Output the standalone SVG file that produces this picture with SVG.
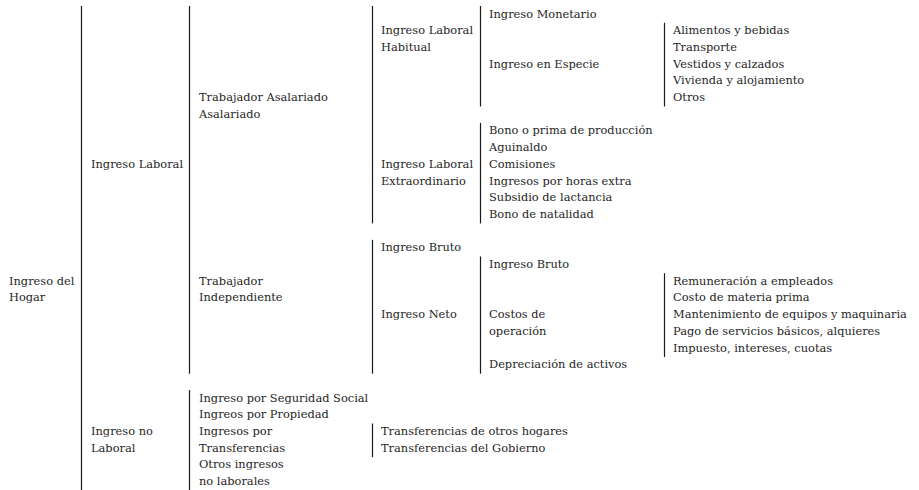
<svg xmlns="http://www.w3.org/2000/svg" width="919" height="490" viewBox="0 0 919 490">
<style>
text{font-family:"DejaVu Serif","Liberation Serif",serif;font-size:11.4px;fill:#262626}
.bar{stroke:#1a1a1a;stroke-width:1.2;fill:none}
</style>
<rect width="919" height="490" fill="#fff"/>
<g id="connectors">
<line class="bar" x1="81.5" y1="6" x2="81.5" y2="490"/>
<line class="bar" x1="189.5" y1="6" x2="189.5" y2="373.7"/>
<line class="bar" x1="189.5" y1="390.1" x2="189.5" y2="490"/>
<line class="bar" x1="372.5" y1="6" x2="372.5" y2="223.4"/>
<line class="bar" x1="372.5" y1="239.8" x2="372.5" y2="373.7"/>
<line class="bar" x1="372.5" y1="423.5" x2="372.5" y2="457.2"/>
<line class="bar" x1="480.5" y1="6" x2="480.5" y2="106.5"/>
<line class="bar" x1="480.5" y1="122.9" x2="480.5" y2="223.4"/>
<line class="bar" x1="480.5" y1="256.5" x2="480.5" y2="373.7"/>
<line class="bar" x1="664.5" y1="22.7" x2="664.5" y2="106.5"/>
<line class="bar" x1="664.5" y1="273.2" x2="664.5" y2="357"/>
</g>
<g id="hogar"><text x="9" y="284.7">Ingreso del<tspan x="9" y="301.4">Hogar</tspan></text></g>
<g id="laboral"><text x="91" y="167.8">Ingreso Laboral</text></g>
<g id="nolaboral"><text x="91" y="435">Ingreso no<tspan x="91" y="451.7">Laboral</tspan></text></g>
<g id="asalariado"><text x="199" y="101">Trabajador Asalariado<tspan x="199" y="117.7">Asalariado</tspan></text></g>
<g id="independiente"><text x="199" y="284.7">Trabajador<tspan x="199" y="301.4">Independiente</tspan></text></g>
<g id="nolab-items"><text x="199" y="401.6">Ingreso por Seguridad Social<tspan x="199" y="418.3">Ingreos por Propiedad</tspan><tspan x="199" y="435">Ingresos por</tspan><tspan x="199" y="451.7">Transferencias</tspan><tspan x="199" y="468.4">Otros ingresos</tspan><tspan x="199" y="485.1">no laborales</tspan></text></g>
<g id="habitual"><text x="381" y="34.2">Ingreso Laboral<tspan x="381" y="50.9">Habitual</tspan></text></g>
<g id="extraordinario"><text x="381" y="167.8">Ingreso Laboral<tspan x="381" y="184.5">Extraordinario</tspan></text></g>
<g id="bruto1"><text x="381" y="251.3">Ingreso Bruto</text></g>
<g id="neto"><text x="381" y="318.1">Ingreso Neto</text></g>
<g id="transferencias"><text x="381" y="435">Transferencias de otros hogares<tspan x="381" y="451.7">Transferencias del Gobierno</tspan></text></g>
<g id="monetario"><text x="489" y="17.5">Ingreso Monetario</text></g>
<g id="especie"><text x="489" y="67.6">Ingreso en Especie</text></g>
<g id="extra-items"><text x="489" y="134.4">Bono o prima de producción<tspan x="489" y="151.1">Aguinaldo</tspan><tspan x="489" y="167.8">Comisiones</tspan><tspan x="489" y="184.5">Ingresos por horas extra</tspan><tspan x="489" y="201.2">Subsidio de lactancia</tspan><tspan x="489" y="217.9">Bono de natalidad</tspan></text></g>
<g id="bruto2"><text x="489" y="268">Ingreso Bruto</text></g>
<g id="costos"><text x="489" y="318.1">Costos de<tspan x="489" y="334.8">operación</tspan></text></g>
<g id="depreciacion"><text x="489" y="368.2">Depreciación de activos</text></g>
<g id="especie-items"><text x="673" y="34.2">Alimentos y bebidas<tspan x="673" y="50.9">Transporte</tspan><tspan x="673" y="67.6">Vestidos y calzados</tspan><tspan x="673" y="84.3">Vivienda y alojamiento</tspan><tspan x="673" y="101">Otros</tspan></text></g>
<g id="costos-items"><text x="673" y="284.7">Remuneración a empleados<tspan x="673" y="301.4">Costo de materia prima</tspan><tspan x="673" y="318.1">Mantenimiento de equipos y maquinaria</tspan><tspan x="673" y="334.8">Pago de servicios básicos, alquieres</tspan><tspan x="673" y="351.5">Impuesto, intereses, cuotas</tspan></text></g>
</svg>
